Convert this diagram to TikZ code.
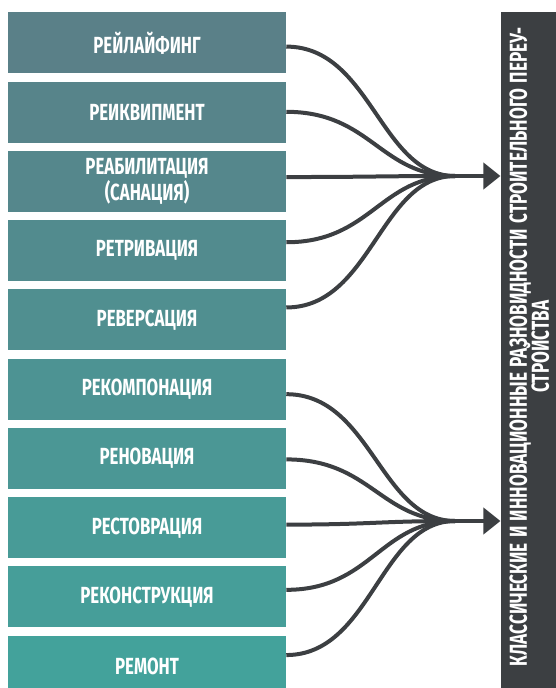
\documentclass[tikz,border=0pt]{standalone}
\usepackage{fontspec}
\setmainfont{Fira Sans}
\newfontfamily\condfont[FakeStretch=0.72]{Fira Sans}
\newfontfamily\barfont[FakeStretch=0.7]{Fira Sans}
\usetikzlibrary{positioning,calc,arrows.meta}
\definecolor{boxtop}{RGB}{90,128,136}
\definecolor{boxbot}{RGB}{67,162,155}
\definecolor{darkbar}{RGB}{60,63,66}
\newcommand\tightlines{\spaceskip=4pt\relax\lineskiplimit=-20pt\relax}
\tikzset{kind/.style={minimum width=208.5pt, minimum height=45.75pt, inner sep=2pt, align=center, text=white, font=\condfont\bfseries\fontsize{17.5}{19}\selectfont}}
\tikzset{kindcol/.style={fill=boxbot!#1!boxtop}}
\tikzset{link/.style={draw=darkbar, line width=3pt}}
\tikzset{bar/.style={fill=darkbar, minimum width=41.5pt, minimum height=506.8pt, inner sep=0pt}}
\tikzset{bartext/.style={inner sep=0pt, align=center, text=white, text width=500pt, font=\barfont\bfseries\fontsize{18.4}{16.5}\selectfont, execute at begin node=\tightlines}}
\tikzset{tip/.style={-{Triangle[length=12.75pt,width=19.5pt]}}}

\begin{document}
\begin{tikzpicture}[x=0.75pt, y=-0.75pt, node distance=5.8pt]
			\useasboundingbox (0,0) rectangle (556,688);
			%
			\node[kind, kindcol=0] (r1) at (147,42.8) {РЕЙЛАЙФИНГ};
			\node[kind, kindcol=11, below=of r1] (r2) {РЕИКВИПМЕНТ};
			\node[kind, kindcol=22, below=of r2] (r3) {РЕАБИЛИТАЦИЯ\\(САНАЦИЯ)};
			\node[kind, kindcol=33, below=of r3] (r4) {РЕТРИВАЦИЯ};
			\node[kind, kindcol=44, below=of r4] (r5) {РЕВЕРСАЦИЯ};
			\node[kind, kindcol=56, below=of r5] (r6) {РЕКОМПОНАЦИЯ};
			\node[kind, kindcol=67, below=of r6] (r7) {РЕНОВАЦИЯ};
			\node[kind, kindcol=78, below=of r7] (r8) {РЕСТОВРАЦИЯ};
			\node[kind, kindcol=89, below=of r8] (r9) {РЕКОНСТРУКЦИЯ};
			\node[kind, kindcol=100, below=of r9] (r10) {РЕМОНТ};
			%
			\node[bar] (types) at (528.35,350.15) {};
			\node[bartext, rotate=90] (typestext) at ($(types.center)+(1,-3.5)$)
				{КЛАССИЧЕСКИЕ И ИННОВАЦИОННЫЕ РАЗНОВИДНОСТИ СТРОИТЕЛЬНОГО ПЕРЕУ-\\СТРОЙСТВА};
			%
			\coordinate (m1) at (455,176);
			\coordinate (m2) at (455,521);
			\foreach \i/\dy in {1/3.8, 2/-0.25, 3/-4.3, 4/-8.35, 5/-12.4}
				\draw[link] ($(r\i.east)+(0,\dy)$) .. controls +(85,0) and +(-75,0) .. (m1);
			\foreach \i/\dy in {6/5.05, 7/1, 8/-3.05, 9/-7.1, 10/-11.15}
				\draw[link] ($(r\i.east)+(0,\dy)$) .. controls +(85,0) and +(-75,0) .. (m2);
			%
			\draw[link, tip] (m1) -- (m1 -| types.west);
			\draw[link, tip] (m2) -- (m2 -| types.west);
		\end{tikzpicture}
\end{document}
